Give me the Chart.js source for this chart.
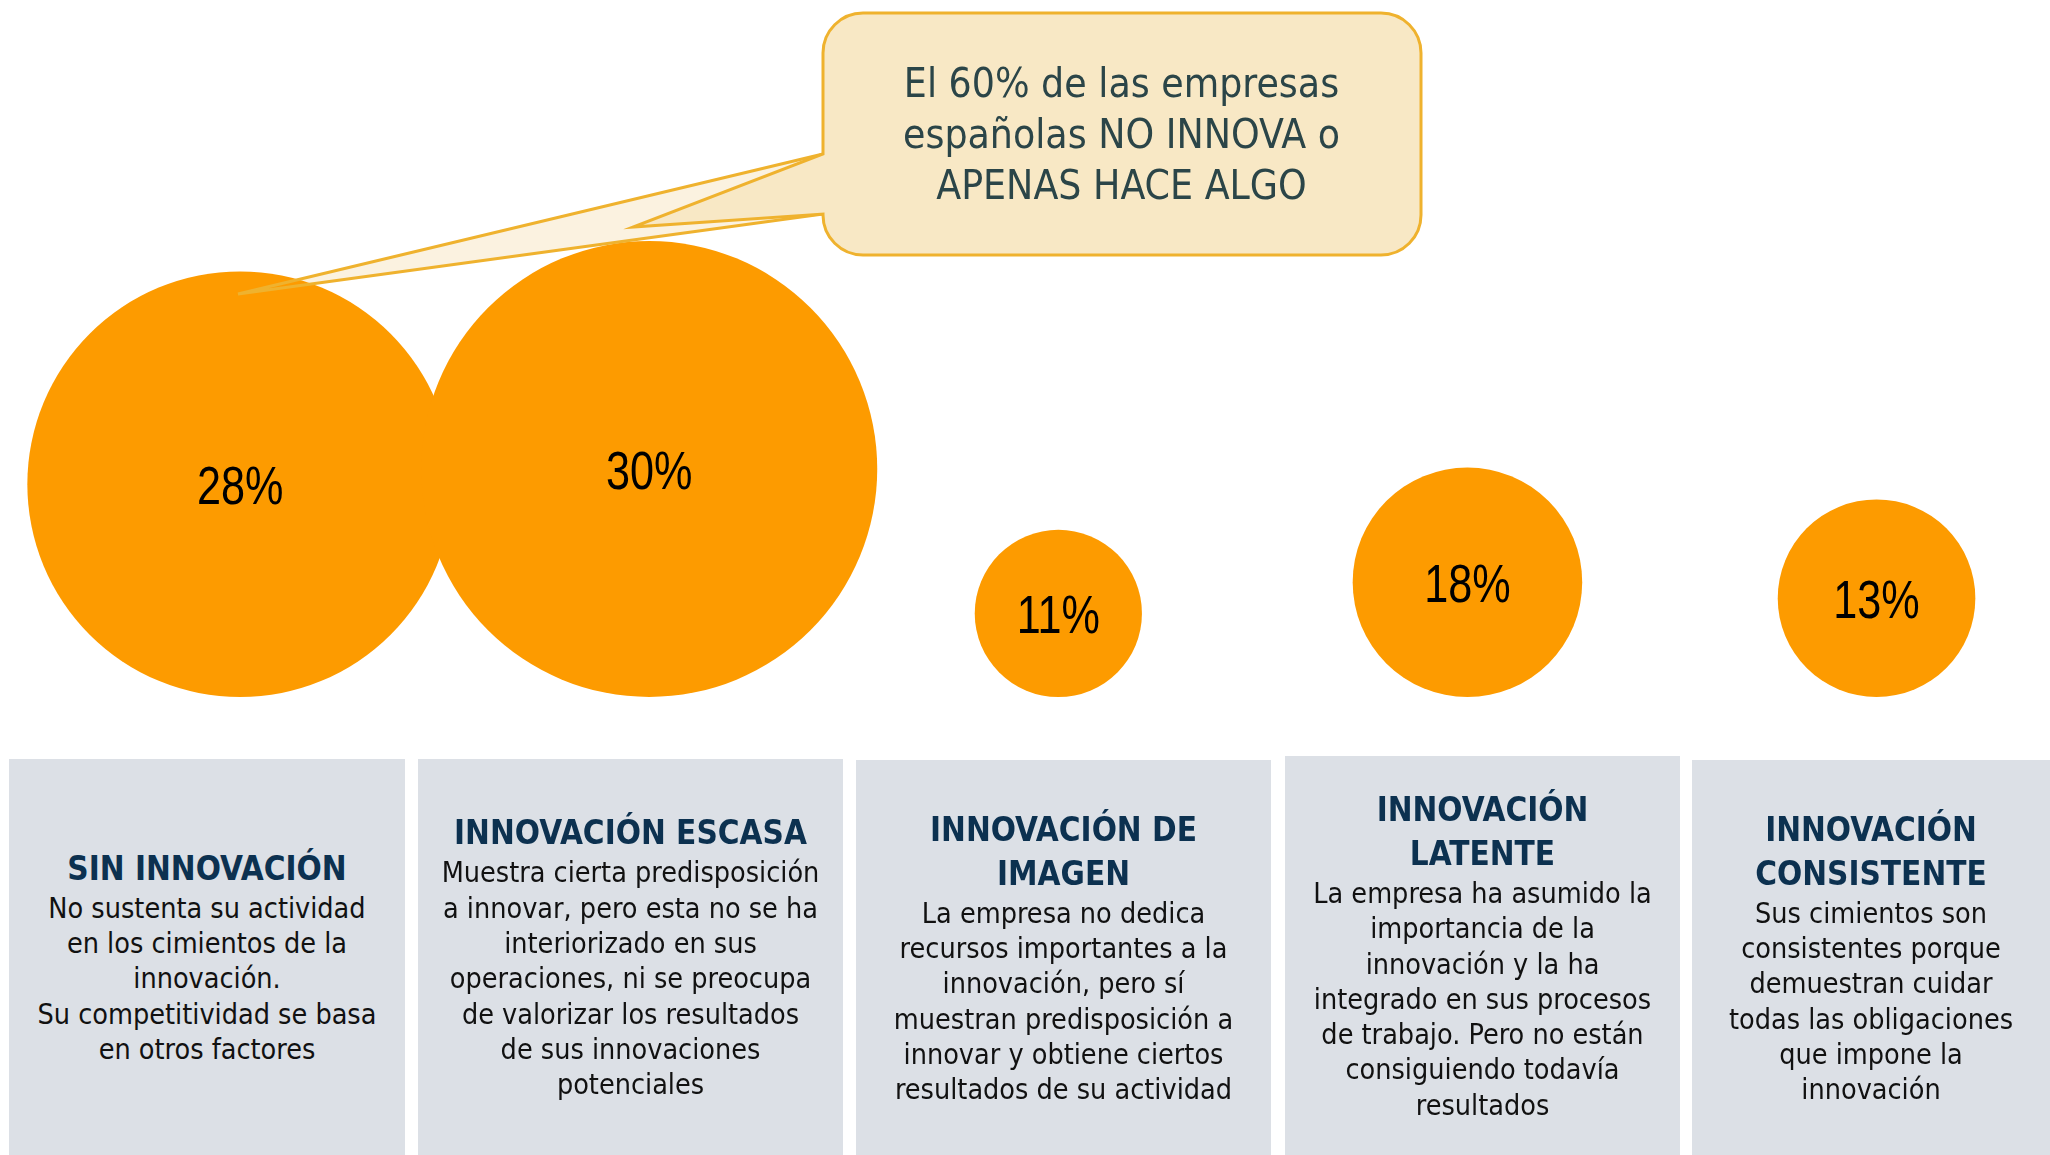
<!DOCTYPE html>
<html lang="es">
<head>
<meta charset="utf-8">
<script src="https://cdn.jsdelivr.net/npm/chart.js@4.4.1/dist/chart.umd.min.js"></script>
<style>
  html, body { margin: 0; padding: 0; background: #ffffff; }
  #wrap { position: relative; width: 2050px; height: 1155px; overflow: hidden; background: #fff; }
  #c { position: absolute; left: 0; top: 0; }
  .callout-text {
    position: absolute; left: 822px; top: 13px; width: 599px; height: 242px;
    display: flex; align-items: center; justify-content: center; text-align: center;
    font-family: "DejaVu Sans Condensed", "DejaVu Sans", sans-serif; font-stretch: semi-condensed;
    font-size: 40.5px; line-height: 51px; color: #2b4548; z-index: 2;
  }
  .box {
    position: absolute; top: 759px; height: 396px; background: #dce0e6;
    display: flex; flex-direction: column; align-items: center; justify-content: center; text-align: center;
    font-family: "DejaVu Sans Condensed", "DejaVu Sans", sans-serif; font-stretch: semi-condensed;
  }
  .box .t { font-weight: bold; font-size: 33px; line-height: 44px; color: #0c3150; }
  .box .d { font-size: 28.5px; line-height: 35.3px; color: #111111; }
</style>
</head>
<body>
<div id="wrap">
  <canvas id="c" width="2050" height="758"></canvas>
  <div class="callout-text" id="callout"></div>
</div>
<script>
// ---- Data ----
const categories = ['SIN INNOVACIÓN', 'INNOVACIÓN ESCASA', 'INNOVACIÓN DE IMAGEN', 'INNOVACIÓN LATENTE', 'INNOVACIÓN CONSISTENTE'];
const titleLines = [
  ['SIN INNOVACIÓN'],
  ['INNOVACIÓN ESCASA'],
  ['INNOVACIÓN DE', 'IMAGEN'],
  ['INNOVACIÓN', 'LATENTE'],
  ['INNOVACIÓN', 'CONSISTENTE']
];
const descriptions = [
  ['No sustenta su actividad', 'en los cimientos de la', 'innovación.', 'Su competitividad se basa', 'en otros factores'],
  ['Muestra cierta predisposición', 'a innovar, pero esta no se ha', 'interiorizado en sus', 'operaciones, ni se preocupa', 'de valorizar los resultados', 'de sus innovaciones', 'potenciales'],
  ['La empresa no dedica', 'recursos importantes a la', 'innovación, pero sí', 'muestran predisposición a', 'innovar y obtiene ciertos', 'resultados de su actividad'],
  ['La empresa ha asumido la', 'importancia de la', 'innovación y la ha', 'integrado en sus procesos', 'de trabajo. Pero no están', 'consiguiendo todavía', 'resultados'],
  ['Sus cimientos son', 'consistentes porque', 'demuestran cuidar', 'todas las obligaciones', 'que impone la', 'innovación']
];
const values = [28, 30, 11, 18, 13];           // % of companies
const bubbleSizes = [28, 30, 11, 15.1, 13];    // relative bubble size as drawn in the reference
const calloutLines = ['El 60% de las empresas', 'españolas NO INNOVA o', 'APENAS HACE ALGO'];

// ---- Layout (not data) ----
const boxLayout = [[9, 396], [418, 425], [856, 415], [1285, 395], [1692, 358]];
const boxTops = [759, 759, 760, 756, 760];
const pxPerSize = 7.6;
const bubbleBase = 697;

const wrap = document.getElementById('wrap');
categories.forEach((cat, i) => {
  const b = document.createElement('div');
  b.className = 'box';
  b.style.left = boxLayout[i][0] + 'px';
  b.style.width = boxLayout[i][1] + 'px';
  b.style.top = boxTops[i] + 'px';
  b.style.height = (1155 - boxTops[i]) + 'px';
  const t = document.createElement('div');
  t.className = 't';
  t.innerHTML = titleLines[i].join('<br>');
  const d = document.createElement('div');
  d.className = 'd';
  d.innerHTML = descriptions[i].join('<br>');
  b.appendChild(t); b.appendChild(d);
  wrap.appendChild(b);
});
document.getElementById('callout').innerHTML = calloutLines.join('<br>');

const A = [823, 154], B = [823, 214], N = [633, 227], T = [238, 294];
const rect = { x: 823, y: 13, w: 598, h: 242, r: 40 };
const gold = '#efb22e';

const decoPlugin = {
  id: 'deco',
  beforeDatasetsDraw(chart) {
    const ctx = chart.ctx;
    ctx.save();
    ctx.beginPath();
    ctx.moveTo(A[0], A[1]); ctx.lineTo(T[0], T[1]); ctx.lineTo(B[0], B[1]); ctx.closePath();
    ctx.fillStyle = '#fbf2e0';
    ctx.fill();
    ctx.restore();
  },
  afterDatasetsDraw(chart) {
    const ctx = chart.ctx;
    const meta = chart.getDatasetMeta(0);
    ctx.save();
    // labels (narrow face emulated by horizontal scaling)
    ctx.fillStyle = '#000000';
    ctx.font = '54px "Liberation Sans", Arial, sans-serif';
    ctx.textAlign = 'center';
    ctx.textBaseline = 'middle';
    meta.data.forEach((el, i) => {
      ctx.save();
      ctx.translate(el.x, el.y + 5);
      ctx.scale(0.8, 1);
      ctx.fillText(values[i] + '%', 0, 0);
      ctx.restore();
    });
    // long tail strokes
    ctx.strokeStyle = gold;
    ctx.lineWidth = 3;
    ctx.lineJoin = 'miter';
    ctx.beginPath();
    ctx.moveTo(A[0], A[1]); ctx.lineTo(T[0], T[1]); ctx.lineTo(B[0], B[1]);
    ctx.stroke();
    // callout box with notch
    const { x, y, w, h, r } = rect;
    ctx.beginPath();
    ctx.moveTo(A[0], A[1]);
    ctx.lineTo(x, y + r);
    ctx.arcTo(x, y, x + r, y, r);
    ctx.lineTo(x + w - r, y);
    ctx.arcTo(x + w, y, x + w, y + r, r);
    ctx.lineTo(x + w, y + h - r);
    ctx.arcTo(x + w, y + h, x + w - r, y + h, r);
    ctx.lineTo(x + r, y + h);
    ctx.arcTo(x, y + h, x, y + h - r, r);
    ctx.lineTo(B[0], B[1]);
    ctx.lineTo(N[0], N[1]);
    ctx.closePath();
    ctx.fillStyle = '#f8e8c5';
    ctx.fill();
    ctx.stroke();
    ctx.restore();
  }
};

new Chart(document.getElementById('c'), {
  type: 'bubble',
  data: {
    labels: categories,
    datasets: [{
      data: values.map((v, i) => {
        const r = bubbleSizes[i] * pxPerSize;
        return { x: i, y: bubbleBase - r, r: r };
      }),
      backgroundColor: '#fd9b00',
      borderWidth: 0,
      hoverBorderWidth: 0,
      hoverRadius: 0,
      clip: false
    }]
  },
  options: {
    responsive: false,
    animation: false,
    devicePixelRatio: 1,
    layout: { padding: 0, autoPadding: false },
    events: [],
    plugins: { legend: { display: false }, tooltip: { enabled: false } },
    scales: {
      x: { type: 'linear', display: false, min: -0.587, max: 4.424 },
      y: { type: 'linear', display: false, reverse: true, min: 0, max: 758 }
    }
  },
  plugins: [decoPlugin]
});
</script>
</body>
</html>
